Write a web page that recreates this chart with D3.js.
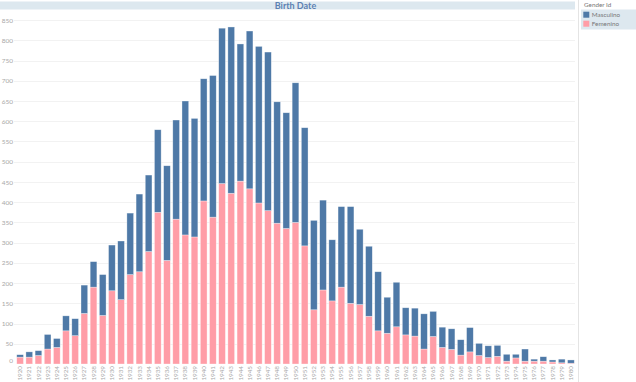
<!DOCTYPE html>
<html>
<head>
<meta charset="utf-8">
<script src="https://cdn.jsdelivr.net/npm/d3@7"></script>
<style>
  html, body { margin: 0; padding: 0; background: #fff; }
  svg { display: block; font-family: Lato, "Open Sans", sans-serif; }
</style>
</head>
<body>
<svg id="chart" width="636" height="382"></svg>
<script>
const years = ["1920","1921","1922","1923","1924","1925","1926","1927","1928","1929",
  "1930","1931","1932","1933","1934","1935","1936","1937","1938","1939",
  "1940","1941","1942","1943","1944","1945","1946","1947","1948","1949",
  "1950","1951","1952","1953","1954","1955","1956","1957","1958","1959",
  "1960","1961","1962","1963","1964","1965","1966","1967","1968","1969",
  "1970","1971","1972","1973","1974","1975","1976","1977","1978","1979","1980"];
const femenino = [17,17,21,37,41,82,70,125,190,120,
  181,159,221,228,278,375,256,358,319,314,
  403,363,446,422,452,433,398,379,348,335,
  350,292,134,183,156,190,150,147,118,82,
  76,92,72,69,37,68,41,36,22,30,
  21,16,19,7,15,7,7,7,5,3,2];
const masculino = [6,13,12,36,22,37,42,70,63,101,
  113,145,152,192,189,204,234,245,331,293,
  302,350,384,411,339,390,387,392,300,286,
  345,292,221,222,151,199,239,186,173,146,
  89,110,67,69,87,62,50,51,38,60,
  30,29,27,17,9,30,5,11,5,9,8];
const yTicks = [0,50,100,150,200,250,300,350,400,450,500,550,600,650,700,750,800,850];
const seriesNames = ["Femenino","Masculino"];
const legendNames = ["Masculino","Femenino"];
const colors = {Masculino: "#4e79a7", Femenino: "#ff9da7"};

const svg = d3.select("#chart");
const plotL = 15.5, plotR = 575.5, plotT = 12, plotB = 364;

const x = d3.scaleBand().domain(years).range([plotL, plotR]).paddingInner(0.27).paddingOuter(0.135);
const y = d3.scaleLinear().domain([0, 870]).range([plotB, plotT]);

// title band
svg.append("rect").attr("x", 0).attr("y", 1.5).attr("width", 575).attr("height", 8)
  .attr("fill", "#dde8ef");
svg.append("text").attr("x", (plotL + plotR) / 2).attr("y", 8.6)
  .attr("text-anchor", "middle").attr("font-size", 9).attr("font-weight", "bold")
  .attr("fill", "#5b80b2").text("Birth Date");

// gridlines
svg.append("g").selectAll("line").data(yTicks.slice(1)).join("line")
  .attr("x1", 14).attr("x2", 575).attr("y1", d => Math.round(y(d)) + 0.5).attr("y2", d => Math.round(y(d)) + 0.5)
  .attr("stroke", "#f2f2f2").attr("stroke-width", 1);

// y axis
const yAxis = svg.append("g").attr("transform", `translate(${13},0)`)
  .call(d3.axisLeft(y).tickValues(yTicks).tickSize(0).tickPadding(0));
yAxis.select(".domain").remove();
yAxis.selectAll("text").attr("font-size", 6.5).attr("fill", "#a8a8a8")
  .attr("font-family", "Lato, 'Open Sans', sans-serif")
  .attr("dy", d => d === 0 ? "-0.2em" : "0.32em");

// stacked bars
const table = years.map((yr, i) => ({year: yr, Femenino: femenino[i], Masculino: masculino[i]}));
const stacked = d3.stack().keys(seriesNames)(table);
svg.append("g").selectAll("g").data(stacked).join("g")
  .attr("fill", d => colors[d.key])
  .selectAll("rect").data(d => d).join("rect")
  .attr("x", d => x(d.data.year))
  .attr("width", x.bandwidth())
  .attr("y", d => y(d[1]))
  .attr("height", d => y(d[0]) - y(d[1]))
  .attr("stroke", "#ffffff").attr("stroke-opacity", 0.55).attr("stroke-width", 0.6);

// x axis
const xAxis = svg.append("g").attr("transform", `translate(0,${plotB})`)
  .call(d3.axisBottom(x).tickSize(0).tickPadding(0));
xAxis.select(".domain").remove();
xAxis.selectAll("text").attr("font-size", 6.3).attr("fill", "#a8a8a8")
  .attr("font-family", "Lato, 'Open Sans', sans-serif")
  .attr("transform", "rotate(-90)")
  .attr("text-anchor", "end").attr("x", -2).attr("y", 0).attr("dy", "0.33em");

// separator
svg.append("line").attr("x1", 578.5).attr("x2", 578.5).attr("y1", 0).attr("y2", 382)
  .attr("stroke", "#e4e4e4").attr("stroke-width", 1);

// legend
svg.append("text").attr("x", 584).attr("y", 6.5).attr("font-size", 6.3).attr("fill", "#777")
  .text("Gender Id");
svg.append("rect").attr("x", 581).attr("y", 9.5).attr("width", 55).attr("height", 20)
  .attr("fill", "#dde8ef");
const leg = svg.append("g").selectAll("g").data(legendNames).join("g")
  .attr("transform", (d, i) => `translate(583.3,${11.7 + i * 9})`);
leg.append("rect").attr("width", 6).attr("height", 6).attr("fill", d => colors[d]);
leg.append("text").attr("x", 8.5).attr("y", 5.3).attr("font-size", 6.3).attr("fill", "#777")
  .text(d => d);
</script>
</body>
</html>
